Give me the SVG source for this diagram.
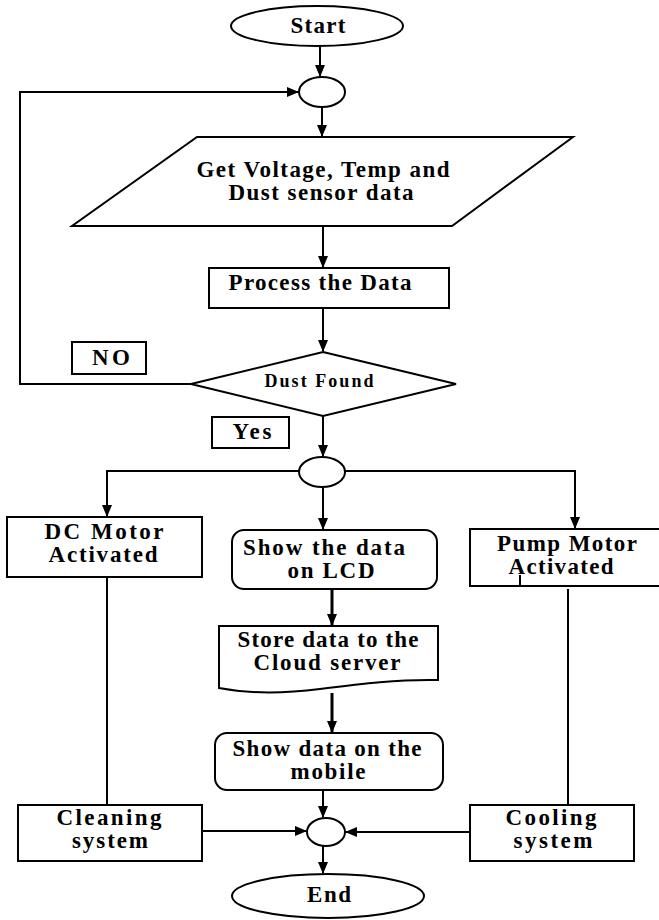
<svg xmlns="http://www.w3.org/2000/svg" width="659" height="920" viewBox="0 0 659 920">
<defs>
<marker id="ah" markerWidth="12" markerHeight="10" refX="11" refY="5" orient="auto" markerUnits="userSpaceOnUse">
<path d="M0,0 L12,5 L0,10 Z" fill="#000"/>
</marker>
<style>
.s{fill:#fff;stroke:#000;stroke-width:2}
.c{fill:none;stroke:#000;stroke-width:2}
.t{font-family:"Liberation Serif","Times New Roman",serif;font-weight:bold;font-size:23px;text-anchor:middle;fill:#000}
.sm{font-size:18px}
</style>
</defs>
<rect width="659" height="920" fill="#fff"/>
<g id="connectors">
<path class="c" d="M320,47 V76" marker-end="url(#ah)"/>
<path class="c" d="M192,384 H20 V92 H298" marker-end="url(#ah)"/>
<path class="c" d="M322,107 V136" marker-end="url(#ah)"/>
<path class="c" d="M323,226 V267" marker-end="url(#ah)"/>
<path class="c" d="M323,308 V351" marker-end="url(#ah)"/>
<path class="c" d="M323,416 V456" marker-end="url(#ah)"/>
<path class="c" d="M299,471 H107 V516" marker-end="url(#ah)"/>
<path class="c" d="M345,471 H575 V528" marker-end="url(#ah)"/>
<path class="c" d="M323,487 V529" marker-end="url(#ah)"/>
<path class="c" d="M107,577 V805"/>
<path class="c" d="M568,589 V805"/>
<path class="c" style="stroke-width:3" d="M332,589 V625" marker-end="url(#ah)"/>
<path class="c" style="stroke-width:3" d="M332,693 V732" marker-end="url(#ah)"/>
<path class="c" d="M323,790 V817" marker-end="url(#ah)"/>
<path class="c" d="M198,831 H306" marker-end="url(#ah)"/>
<path class="c" d="M470,832 H346" marker-end="url(#ah)"/>
<path class="c" d="M323,846 V873" marker-end="url(#ah)"/>
</g>
<g id="start">
<ellipse class="s" cx="317" cy="26" rx="86" ry="20"/>
<text class="t" x="318" y="33" textLength="55" lengthAdjust="spacing">Start</text>
</g>
<g id="join1">
<ellipse class="s" cx="322" cy="92" rx="23" ry="15"/>
</g>
<g id="input">
<polygon class="s" points="197,137 573,137 452,226 72,226"/>
<text class="t" x="323" y="177" textLength="253" lengthAdjust="spacing">Get Voltage, Temp and</text>
<text class="t" x="321" y="200" textLength="185" lengthAdjust="spacing">Dust sensor data</text>
</g>
<g id="process">
<rect class="s" x="209" y="268" width="240" height="40"/>
<text class="t" x="320" y="290" textLength="183" lengthAdjust="spacing">Process the Data</text>
</g>
<g id="decision">
<polygon class="s" points="323,352 456,384 323,416 191,384"/>
<text class="t sm" x="319" y="387" textLength="109" lengthAdjust="spacing">Dust Found</text>
</g>
<g id="no-label">
<rect class="s" x="72" y="342" width="74" height="32"/>
<text class="t" x="111" y="365" textLength="38" lengthAdjust="spacing">NO</text>
</g>
<g id="yes-label">
<rect class="s" x="212" y="417" width="77" height="31"/>
<text class="t" x="252" y="439" textLength="39" lengthAdjust="spacing">Yes</text>
</g>
<g id="join2">
<ellipse class="s" cx="322" cy="472" rx="23" ry="15"/>
</g>
<g id="dc-motor">
<rect class="s" x="7" y="517" width="195" height="60"/>
<text class="t" x="104" y="539" textLength="119" lengthAdjust="spacing">DC Motor</text>
<text class="t" x="103" y="562" textLength="109" lengthAdjust="spacing">Activated</text>
</g>
<g id="lcd">
<rect class="s" x="232" y="530" width="205" height="59" rx="12"/>
<text class="t" x="324" y="555" textLength="162" lengthAdjust="spacing">Show the data</text>
<text class="t" x="331" y="578" textLength="87" lengthAdjust="spacing">on LCD</text>
</g>
<g id="pump-motor">
<rect class="s" x="470" y="529" width="200" height="57"/>
<text class="t" x="567" y="551" textLength="140" lengthAdjust="spacing">Pump Motor</text>
<text class="t" x="561" y="574" textLength="105" lengthAdjust="spacing">Activated</text>
<path class="c" d="M520,575 V587"/>
</g>
<g id="cloud">
<path class="s" d="M219,626 H438 V680 C400,679 360,684 320,689 C280,694 245,693 219,688 Z"/>
<text class="t" x="328" y="647" textLength="181" lengthAdjust="spacing">Store data to the</text>
<text class="t" x="327" y="670" textLength="147" lengthAdjust="spacing">Cloud server</text>
</g>
<g id="mobile">
<rect class="s" x="215" y="733" width="228" height="57" rx="12"/>
<text class="t" x="327" y="756" textLength="189" lengthAdjust="spacing">Show data on the</text>
<text class="t" x="328" y="779" textLength="75" lengthAdjust="spacing">mobile</text>
</g>
<g id="cleaning">
<rect class="s" x="18" y="805" width="184" height="56"/>
<text class="t" x="109" y="825" textLength="105" lengthAdjust="spacing">Cleaning</text>
<text class="t" x="110" y="848" textLength="76" lengthAdjust="spacing">system</text>
</g>
<g id="cooling">
<rect class="s" x="470" y="805" width="164" height="56"/>
<text class="t" x="551" y="825" textLength="91" lengthAdjust="spacing">Cooling</text>
<text class="t" x="553" y="848" textLength="79" lengthAdjust="spacing">system</text>
</g>
<g id="join3">
<ellipse class="s" cx="326" cy="832" rx="19" ry="14"/>
</g>
<g id="end">
<ellipse class="s" cx="328" cy="896" rx="96" ry="22"/>
<text class="t" x="329" y="902" textLength="44" lengthAdjust="spacing">End</text>
</g>
</svg>
